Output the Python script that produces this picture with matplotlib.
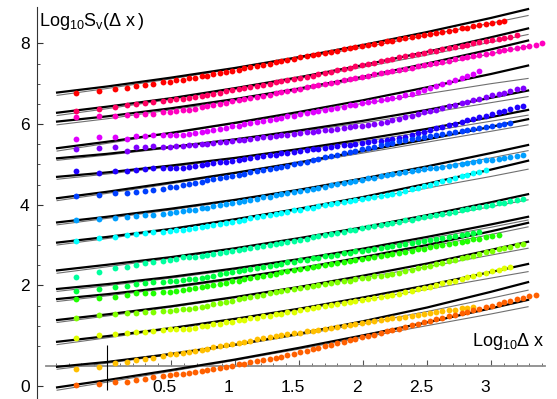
import matplotlib
matplotlib.use('Agg')
import matplotlib.pyplot as plt
import numpy as np
from matplotlib.transforms import ScaledTranslation

plt.rcParams['font.family'] = ['Liberation Sans', 'DejaVu Sans']
plt.rcParams['mathtext.fontset'] = 'custom'
plt.rcParams['mathtext.rm'] = 'Liberation Sans'
plt.rcParams['mathtext.it'] = 'Liberation Sans:italic'

# log10(dx) positions of the measured points (shared by all series)
log_dx = [-0.24, -0.06, 0.06, 0.16, 0.23, 0.30, 0.36, 0.44, 0.49, 0.54, 0.59, 0.64, 0.69,
          0.74, 0.78, 0.83, 0.88, 0.93, 0.98, 1.03, 1.07, 1.12, 1.17, 1.22, 1.27, 1.32,
          1.36, 1.41, 1.46, 1.51, 1.56, 1.61, 1.65, 1.70, 1.75, 1.80, 1.85, 1.90, 1.94,
          1.99, 2.04, 2.09, 2.14, 2.19, 2.23, 2.28, 2.33, 2.38, 2.43, 2.48, 2.52, 2.57,
          2.62, 2.67, 2.72, 2.77, 2.81, 2.86, 2.91, 2.96, 3.01, 3.06, 3.10, 3.15, 3.20,
          3.25, 3.30, 3.35, 3.40]

# log10 S_v for each curve (top to bottom)
pts_01 = [6.76, 6.82, 6.86, 6.90, 6.94, 6.96, 6.99, 7.03, 7.05, 7.08, 7.10, 7.13, 7.15, 7.18, 7.20, 7.23, 7.26, 7.29, 7.32, 7.35, 7.38, 7.41, 7.44, 7.47, 7.50, 7.53, 7.56, 7.59, 7.62, 7.65, 7.68, 7.71, 7.73, 7.76, 7.79, 7.82, 7.85, 7.88, 7.90, 7.93, 7.96, 7.99, 8.02, 8.05, 8.07, 8.10, 8.13, 8.16, 8.18, 8.21, 8.23, 8.26, 8.29, 8.31, 8.34, 8.37, 8.39, 8.42, 8.45, 8.48, 8.50, 8.53, 8.56]
pts_02 = [6.32, 6.38, 6.43, 6.46, 6.49, 6.52, 6.55, 6.58, 6.60, 6.61, 6.63, 6.65, 6.67, 6.70, 6.72, 6.75, 6.78, 6.81, 6.84, 6.86, 6.89, 6.92, 6.95, 6.97, 7.00, 7.03, 7.06, 7.09, 7.11, 7.14, 7.17, 7.20, 7.24, 7.27, 7.30, 7.33, 7.36, 7.40, 7.43, 7.46, 7.49, 7.52, 7.56, 7.59, 7.62, 7.65, 7.68, 7.71, 7.74, 7.77, 7.80, 7.82, 7.85, 7.88, 7.91, 7.94, 7.97, 8.00, 8.03, 8.06, 8.08, 8.11, 8.14, 8.17, 8.20]
pts_03 = [6.17, 6.19, 6.21, 6.22, 6.23, 6.25, 6.26, 6.29, 6.31, 6.33, 6.35, 6.36, 6.38, 6.41, 6.44, 6.47, 6.50, 6.53, 6.56, 6.59, 6.61, 6.64, 6.67, 6.70, 6.73, 6.76, 6.79, 6.82, 6.85, 6.88, 6.91, 6.94, 6.96, 6.99, 7.02, 7.05, 7.08, 7.11, 7.14, 7.17, 7.20, 7.23, 7.26, 7.29, 7.31, 7.34, 7.37, 7.40, 7.43, 7.46, 7.48, 7.51, 7.54, 7.57, 7.60, 7.63, 7.66, 7.68, 7.71, 7.74, 7.77, 7.80, 7.83, 7.86, 7.89, 7.92, 7.94, 7.97, 8.00]
pts_04 = [5.62, 5.67, 5.67, 5.64, 5.71, 5.70, 5.73, 5.73, 5.74, 5.73, 5.74, 5.75, 5.77, 5.80, 5.82, 5.85, 5.88, 5.91, 5.94, 5.96, 5.99, 6.02, 6.05, 6.07, 6.10, 6.13, 6.16, 6.19, 6.21, 6.24, 6.27, 6.30, 6.32, 6.35, 6.38, 6.40, 6.43, 6.46, 6.48, 6.51, 6.54, 6.57, 6.59, 6.62, 6.65, 6.67, 6.71, 6.75, 6.80, 6.84, 6.89, 6.94, 6.99, 7.04, 7.09, 7.14, 7.19, 7.25, 7.31]
pts_05 = [5.37, 5.40, 5.42, 5.33, 5.44, 5.42, 5.46, 5.42, 5.44, 5.46, 5.46, 5.47, 5.48, 5.50, 5.51, 5.53, 5.55, 5.56, 5.58, 5.60, 5.61, 5.63, 5.65, 5.67, 5.68, 5.70, 5.72, 5.73, 5.75, 5.77, 5.79, 5.80, 5.82, 5.84, 5.86, 5.88, 5.90, 5.92, 5.94, 5.96, 5.98, 6.00, 6.02, 6.06, 6.09, 6.13, 6.17, 6.21, 6.25, 6.29, 6.32, 6.36, 6.40, 6.44, 6.48, 6.52, 6.55, 6.59, 6.63, 6.67, 6.71, 6.75, 6.78, 6.82, 6.86, 6.90]
pts_06 = [4.84, 4.78, 4.84, 4.84, 4.86, 4.88, 4.90, 4.90, 4.92, 4.90, 4.92, 4.94, 4.96, 4.98, 5.00, 5.03, 5.05, 5.07, 5.09, 5.11, 5.13, 5.16, 5.18, 5.20, 5.22, 5.24, 5.27, 5.29, 5.31, 5.33, 5.35, 5.37, 5.39, 5.41, 5.43, 5.45, 5.47, 5.49, 5.51, 5.53, 5.55, 5.57, 5.59, 5.61, 5.63, 5.65, 5.69, 5.73, 5.77, 5.81, 5.85, 5.89, 5.93, 5.97, 6.01, 6.05, 6.09, 6.13, 6.17, 6.21, 6.25, 6.29, 6.33, 6.37, 6.41, 6.45]
pts_07 = [4.21, 4.25, 4.28, 4.30, 4.32, 4.34, 4.36, 4.40, 4.43, 4.45, 4.48, 4.51, 4.54, 4.57, 4.60, 4.63, 4.65, 4.68, 4.71, 4.74, 4.77, 4.80, 4.83, 4.86, 4.89, 4.92, 4.94, 4.97, 5.00, 5.03, 5.06, 5.10, 5.13, 5.17, 5.20, 5.23, 5.27, 5.30, 5.33, 5.37, 5.40, 5.44, 5.47, 5.50, 5.54, 5.57, 5.60, 5.62, 5.65, 5.67, 5.70, 5.72, 5.75, 5.77, 5.80, 5.82, 5.85, 5.87, 5.90, 5.92, 5.95, 5.97, 6.00, 6.02]
pts_08 = [3.62, 3.64, 3.68, 3.70, 3.72, 3.74, 3.75, 3.78, 3.80, 3.82, 3.84, 3.86, 3.88, 3.91, 3.93, 3.96, 3.99, 4.01, 4.04, 4.07, 4.09, 4.12, 4.15, 4.18, 4.20, 4.23, 4.26, 4.28, 4.31, 4.34, 4.37, 4.39, 4.42, 4.45, 4.48, 4.51, 4.53, 4.56, 4.59, 4.62, 4.65, 4.67, 4.70, 4.73, 4.76, 4.79, 4.81, 4.83, 4.86, 4.88, 4.90, 4.92, 4.94, 4.97, 4.99, 5.01, 5.03, 5.05, 5.08, 5.10, 5.12, 5.14, 5.16, 5.19, 5.21, 5.23]
pts_09 = [3.10, 3.17, 3.21, 3.25, 3.27, 3.29, 3.32, 3.33, 3.35, 3.36, 3.37, 3.39, 3.41, 3.44, 3.46, 3.49, 3.52, 3.55, 3.58, 3.60, 3.63, 3.66, 3.69, 3.72, 3.74, 3.77, 3.80, 3.83, 3.86, 3.88, 3.91, 3.93, 3.96, 3.99, 4.01, 4.04, 4.06, 4.09, 4.12, 4.14, 4.17, 4.19, 4.22, 4.25, 4.27, 4.30, 4.34, 4.38, 4.42, 4.46, 4.50, 4.54, 4.58, 4.62, 4.66, 4.70, 4.74, 4.78, 4.82, 4.86]
pts_10 = [2.21, 2.32, 2.42, 2.46, 2.50, 2.55, 2.59, 2.61, 2.63, 2.65, 2.70, 2.70, 2.71, 2.73, 2.76, 2.78, 2.81, 2.83, 2.86, 2.88, 2.91, 2.93, 2.96, 2.98, 3.01, 3.03, 3.06, 3.08, 3.11, 3.13, 3.16, 3.19, 3.22, 3.24, 3.27, 3.30, 3.33, 3.36, 3.38, 3.41, 3.44, 3.47, 3.50, 3.52, 3.55, 3.58, 3.61, 3.63, 3.66, 3.69, 3.72, 3.75, 3.77, 3.80, 3.83, 3.86, 3.89, 3.91, 3.94, 3.97, 4.00, 4.03, 4.05, 4.08, 4.11, 4.14]
pts_11 = [1.86, 1.90, 1.97, 1.99, 2.03, 2.05, 2.08, 2.09, 2.11, 2.12, 2.13, 2.15, 2.16, 2.19, 2.21, 2.24, 2.27, 2.30, 2.32, 2.35, 2.38, 2.40, 2.43, 2.46, 2.49, 2.51, 2.54, 2.57, 2.59, 2.62, 2.64, 2.67, 2.69, 2.72, 2.74, 2.76, 2.79, 2.81, 2.84, 2.86, 2.88, 2.91, 2.93, 2.96, 2.98, 3.00, 3.03, 3.05, 3.08, 3.10, 3.13, 3.15, 3.18, 3.20, 3.23, 3.25, 3.28, 3.30, 3.33]
pts_12 = [1.65, 1.68, 1.72, 1.76, 1.80, 1.80, 1.80, 1.83, 1.84, 1.86, 1.88, 1.90, 1.93, 1.96, 1.98, 2.01, 2.04, 2.07, 2.10, 2.12, 2.15, 2.18, 2.21, 2.24, 2.26, 2.29, 2.32, 2.35, 2.38, 2.40, 2.43, 2.45, 2.48, 2.50, 2.53, 2.55, 2.58, 2.60, 2.63, 2.65, 2.68, 2.70, 2.73, 2.75, 2.78, 2.80, 2.83, 2.86, 2.89, 2.91, 2.94, 2.97, 3.00, 3.02, 3.05, 3.08, 3.11, 3.14, 3.16, 3.19, 3.22, 3.25]
pts_13 = [1.18, 1.26, 1.29, 1.32, 1.32, 1.33, 1.35, 1.36, 1.37, 1.39, 1.41, 1.41, 1.44, 1.47, 1.50, 1.53, 1.56, 1.59, 1.62, 1.65, 1.68, 1.71, 1.74, 1.77, 1.80, 1.83, 1.86, 1.89, 1.92, 1.94, 1.96, 1.99, 2.01, 2.03, 2.06, 2.08, 2.10, 2.12, 2.15, 2.17, 2.19, 2.22, 2.24, 2.26, 2.29, 2.31, 2.35, 2.38, 2.42, 2.46, 2.49, 2.53, 2.56, 2.60, 2.64, 2.67, 2.71, 2.74, 2.78, 2.82, 2.85, 2.89, 2.92, 2.96, 3.00, 3.03]
pts_14 = [0.69, 0.77, 0.79, 0.83, 0.84, 0.85, 0.87, 0.89, 0.91, 0.91, 0.93, 0.93, 0.95, 0.98, 1.00, 1.03, 1.05, 1.08, 1.10, 1.13, 1.15, 1.18, 1.20, 1.23, 1.25, 1.28, 1.30, 1.33, 1.35, 1.38, 1.41, 1.43, 1.46, 1.48, 1.51, 1.53, 1.56, 1.58, 1.61, 1.64, 1.66, 1.69, 1.71, 1.74, 1.76, 1.79, 1.83, 1.86, 1.90, 1.94, 1.97, 2.01, 2.05, 2.09, 2.12, 2.16, 2.20, 2.23, 2.27, 2.31, 2.35, 2.38, 2.42, 2.46]
pts_15 = [-0.08, -0.02, 0.07, 0.11, 0.15, 0.17, 0.19, 0.26, 0.29, 0.31, 0.33, 0.35, 0.37, 0.40, 0.43, 0.46, 0.49, 0.51, 0.54, 0.57, 0.60, 0.63, 0.66, 0.69, 0.72, 0.74, 0.76, 0.79, 0.81, 0.83, 0.86, 0.88, 0.90, 0.93, 0.95, 0.97, 1.00, 1.02, 1.04, 1.06, 1.09, 1.11, 1.13, 1.16, 1.18, 1.20, 1.22, 1.25, 1.27, 1.29, 1.31, 1.34, 1.36, 1.38, 1.40, 1.43, 1.45, 1.47]
pts_16 = [-0.47, -0.45, -0.39, -0.39, -0.35, -0.32, -0.28, -0.25, -0.23, -0.21, -0.19, -0.17, -0.15, -0.12, -0.10, -0.07, -0.04, -0.02, 0.01, 0.04, 0.06, 0.09, 0.12, 0.14, 0.17, 0.19, 0.23, 0.27, 0.30, 0.34, 0.38, 0.41, 0.45, 0.49, 0.53, 0.56, 0.60, 0.64, 0.67, 0.71, 0.75, 0.78, 0.82, 0.86, 0.89, 0.93, 0.97, 1.01, 1.04, 1.08, 1.12, 1.16, 1.20, 1.23, 1.27, 1.31, 1.35, 1.39, 1.42, 1.46, 1.50, 1.54, 1.58, 1.61, 1.65, 1.69, 1.73, 1.76]

# model curves (thick black) and reference curves (thin grey)
fit_x = [-0.39, 0.0, 0.5, 1.0, 1.5, 2.0, 2.5, 3.0, 3.29]
fit_01 = [6.78, 6.93, 7.15, 7.39, 7.66, 7.96, 8.28, 8.63, 8.85]
ref_01 = [6.71, 6.88, 7.12, 7.37, 7.63, 7.90, 8.20, 8.50, 8.69]
fit_02 = [6.28, 6.43, 6.64, 6.89, 7.16, 7.46, 7.79, 8.15, 8.37]
ref_02 = [6.21, 6.38, 6.61, 6.86, 7.13, 7.41, 7.71, 8.03, 8.22]
fit_03 = [6.06, 6.19, 6.39, 6.62, 6.88, 7.17, 7.50, 7.85, 8.07]
ref_03 = [5.98, 6.13, 6.35, 6.58, 6.84, 7.12, 7.42, 7.74, 7.93]
fit_04 = [5.40, 5.56, 5.78, 6.03, 6.30, 6.59, 6.91, 7.24, 7.45]
ref_04 = [5.33, 5.52, 5.77, 6.01, 6.26, 6.51, 6.75, 7.00, 7.13]
fit_05 = [5.15, 5.26, 5.43, 5.62, 5.84, 6.08, 6.35, 6.65, 6.83]
ref_05 = [5.10, 5.23, 5.41, 5.60, 5.81, 6.03, 6.27, 6.53, 6.68]
fit_06 = [4.69, 4.80, 4.97, 5.16, 5.38, 5.62, 5.88, 6.17, 6.35]
ref_06 = [4.63, 4.76, 4.94, 5.14, 5.35, 5.57, 5.81, 6.07, 6.22]
fit_07 = [4.16, 4.32, 4.55, 4.79, 5.05, 5.33, 5.62, 5.93, 6.12]
ref_07 = [4.10, 4.28, 4.52, 4.77, 5.02, 5.28, 5.55, 5.82, 5.98]
fit_08 = [3.56, 3.70, 3.90, 4.12, 4.37, 4.65, 4.95, 5.28, 5.48]
ref_08 = [3.50, 3.66, 3.87, 4.10, 4.34, 4.60, 4.87, 5.16, 5.34]
fit_09 = [3.06, 3.20, 3.40, 3.64, 3.90, 4.19, 4.52, 4.87, 5.09]
ref_09 = [3.00, 3.16, 3.38, 3.62, 3.87, 4.13, 4.41, 4.70, 4.88]
fit_10 = [2.37, 2.51, 2.70, 2.92, 3.17, 3.44, 3.74, 4.06, 4.26]
ref_10 = [2.30, 2.46, 2.67, 2.90, 3.14, 3.40, 3.67, 3.95, 4.12]
fit_11 = [1.91, 2.03, 2.21, 2.42, 2.65, 2.91, 3.20, 3.51, 3.70]
ref_11 = [1.85, 1.99, 2.18, 2.39, 2.62, 2.87, 3.15, 3.44, 3.62]
fit_12 = [1.66, 1.78, 1.96, 2.18, 2.42, 2.70, 3.00, 3.34, 3.55]
ref_12 = [1.60, 1.74, 1.93, 2.15, 2.39, 2.66, 2.95, 3.26, 3.45]
fit_13 = [1.14, 1.28, 1.48, 1.71, 1.96, 2.24, 2.54, 2.88, 3.08]
ref_13 = [1.08, 1.24, 1.46, 1.69, 1.93, 2.19, 2.46, 2.75, 2.92]
fit_14 = [0.60, 0.74, 0.94, 1.17, 1.42, 1.70, 2.00, 2.33, 2.53]
ref_14 = [0.53, 0.70, 0.92, 1.15, 1.39, 1.64, 1.90, 2.18, 2.34]
fit_15 = [-0.02, 0.10, 0.30, 0.53, 0.80, 1.11, 1.45, 1.84, 2.08]
ref_15 = [-0.08, 0.07, 0.28, 0.51, 0.77, 1.05, 1.35, 1.68, 1.88]
fit_16 = [-0.53, -0.35, -0.10, 0.16, 0.45, 0.76, 1.08, 1.43, 1.64]
ref_16 = [-0.60, -0.40, -0.13, 0.14, 0.42, 0.71, 1.00, 1.29, 1.47]

colors = ['#ff0000', '#ff0060', '#ff00bf', '#df00ff', '#8000ff', '#2000ff', '#0040ff', '#009fff',
          '#00ffff', '#00ff9f', '#00ff40', '#20ff00', '#80ff00', '#dfff00', '#ffbf00', '#ff6000']

series = [(pts_01, fit_01, ref_01), (pts_02, fit_02, ref_02), (pts_03, fit_03, ref_03),
          (pts_04, fit_04, ref_04), (pts_05, fit_05, ref_05), (pts_06, fit_06, ref_06),
          (pts_07, fit_07, ref_07), (pts_08, fit_08, ref_08), (pts_09, fit_09, ref_09),
          (pts_10, fit_10, ref_10), (pts_11, fit_11, ref_11), (pts_12, fit_12, ref_12),
          (pts_13, fit_13, ref_13), (pts_14, fit_14, ref_14), (pts_15, fit_15, ref_15),
          (pts_16, fit_16, ref_16)]

fig = plt.figure(figsize=(5.57, 3.99), dpi=100)
ax = fig.add_axes([0, 0, 1, 1])
ax.set_xlim(-0.836, 3.516)
ax.set_ylim(-0.818, 9.075)

for (pts, fit, ref), c in zip(series, colors):
    ax.plot(fit_x, ref, color='#707070', lw=0.8, zorder=2)
    ax.plot(fit_x, fit, color='black', lw=1.6, zorder=3)
    ax.plot(log_dx[:len(pts)], pts, 'o', color=c, ms=4.2, mew=0, zorder=4)

# Mathematica-style axes
for s in ['top', 'right']:
    ax.spines[s].set_visible(False)
ax.spines['left'].set_position(('data', -0.55))
ax.spines['left'].set_bounds(-0.82, 8.9)
ax.spines['left'].set_color('#333333')
ax.spines['left'].set_linewidth(0.8)
ax.spines['bottom'].set_position(('data', 0))
ax.spines['bottom'].set_bounds(-0.48, 3.42)
ax.spines['bottom'].set_color('#8c8c8c')
ax.spines['bottom'].set_linewidth(1.3)

ax.set_yticks([8, 6, 4, 2, -0.5], labels=['8', '6', '4', '2', '0'])
ax.set_yticks([0.5, 1, 1.5, 2.5, 3, 3.5, 4.5, 5, 5.5, 6.5, 7, 7.5], minor=True)
ax.set_xticks([0.5, 1, 1.5, 2, 2.5, 3], labels=['0.5', '1', '1.5', '2', '2.5', '3'])
ax.set_xticks(np.round(np.arange(-0.4, 3.45, 0.1), 2), minor=True)
ax.tick_params(axis='y', which='major', direction='in', length=4, width=0.8,
               color='#333333', labelsize=12.5, pad=5)
ax.tick_params(axis='y', which='minor', direction='in', length=2.5, width=0.6, color='#333333')
ax.tick_params(axis='x', which='major', direction='in', length=4, width=0.8,
               color='#555555', labelsize=12.5, pad=10)
ax.tick_params(axis='x', which='minor', direction='in', length=2.5, width=0.6, color='#555555')
for lab in ax.get_xticklabels():
    lab.set_transform(lab.get_transform() + ScaledTranslation(-0.06, 0, fig.dpi_scale_trans))

ax.vlines(0, -0.6, 0.52, color='black', lw=0.8, zorder=5)

ax.text(-0.53, 8.53, r'$\mathrm{Log_{10}S_{v}(\Delta\ x\,)}$', fontsize=13,
        ha='left', va='center')
ax.text(3.42, 0.62, r'$\mathrm{Log_{10}\Delta\ x}$', fontsize=13, ha='right', va='center')

fig.savefig('out.png', dpi=100)
